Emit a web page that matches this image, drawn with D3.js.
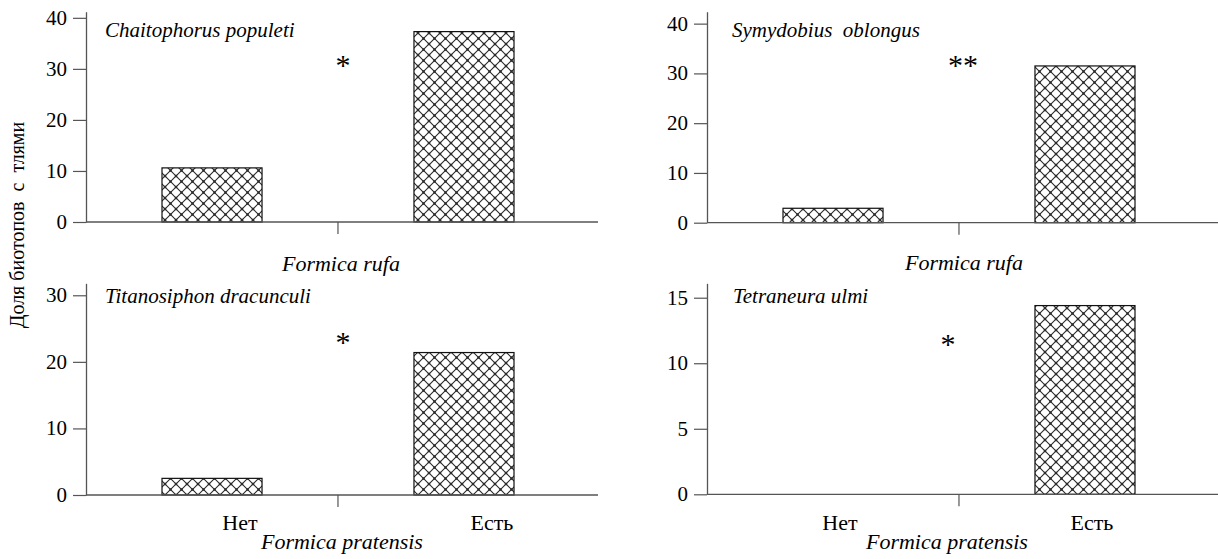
<!DOCTYPE html>
<html>
<head>
<meta charset="utf-8">
<script src="https://cdn.jsdelivr.net/npm/d3@7"></script>
<style>
  html, body { margin: 0; padding: 0; background: #fff; }
  svg { display: block; }
</style>
</head>
<body>
<svg id="chart" width="1218" height="559"></svg>
<script>
// ---- data ----
const categories = ["Нет", "Есть"];
const aphids = ["Chaitophorus populeti", "Symydobius\u00a0 oblongus", "Titanosiphon dracunculi", "Tetraneura ulmi"];
const ants = ["Formica rufa", "Formica rufa", "Formica pratensis", "Formica pratensis"];
const valuesNo = [10.6, 2.9, 2.5, 0];
const valuesYes = [37.3, 31.5, 21.4, 14.4];
const yMax = [41.2, 42.4, 31.8, 16.1];
const yTicks = [[0, 10, 20, 30, 40], [0, 10, 20, 30, 40], [0, 10, 20, 30], [0, 5, 10, 15]];
const significance = ["*", "**", "*", "*"];
const showCategoryLabels = [false, false, true, true];
const yAxisTitle = "Доля биотопов\u00a0 с\u00a0 тлями";

// ---- layout ----
const layout = [
  { left: 86,  bottom: 222,   top: 11.7,  titleDx: 19, titleY: 37,  markDx: 5,   markY: 61,  antDx: 3,   antY: 271, catDx: 0 },
  { left: 707, bottom: 222.7, top: 11.7,  titleDx: 25, titleY: 37,  markDx: 4,   markY: 61,  antDx: 5,   antY: 270, catDx: 0 },
  { left: 86,  bottom: 495,   top: 283.3, titleDx: 19, titleY: 303, markDx: 5,   markY: 338, antDx: 4,   antY: 549, catDx: 28 },
  { left: 707, bottom: 494.3, top: 283.3, titleDx: 26, titleY: 303, markDx: -11, markY: 340, antDx: -12, antY: 549, catDx: 7 }
];
const axisLen = 512, bandLen = 504;
const axisColor = "#555";

const svg = d3.select("#chart");

function addText(x, y, str, size, italic, anchor) {
  const t = svg.append("text").attr("x", x).attr("y", y)
    .style("font-family", "Liberation Serif").style("font-size", size + "px");
  if (italic) t.style("font-style", "italic");
  if (anchor) t.attr("text-anchor", anchor);
  t.text(str);
  return t;
}

// hatch pattern
const defs = svg.append("defs");
const pat = defs.append("pattern")
  .attr("id", "hatch").attr("patternUnits", "userSpaceOnUse")
  .attr("width", 11).attr("height", 11);
pat.append("rect").attr("width", 11).attr("height", 11).attr("fill", "#fff");
pat.append("path").attr("d", "M0,0L11,11M11,0L0,11M-1,10L1,12M10,-1L12,1")
  .attr("stroke", "#2a2a2a").attr("stroke-width", 1.1).attr("fill", "none");
pat.append("rect").attr("x", 4.3).attr("y", 4.3).attr("width", 2.4).attr("height", 2.4).attr("fill", "#2a2a2a");
[[0,0],[11,0],[0,11],[11,11]].forEach(([cx, cy]) => {
  pat.append("rect").attr("x", cx - 1.2).attr("y", cy - 1.2).attr("width", 2.4).attr("height", 2.4).attr("fill", "#2a2a2a");
});

aphids.forEach((name, i) => {
  const L = layout[i];
  const y = d3.scaleLinear().domain([0, yMax[i]]).range([L.bottom, L.top]);
  const x = d3.scaleBand().domain(categories)
    .range([L.left, L.left + bandLen]).paddingInner(0.603).paddingOuter(0.3016);

  // y axis (lines from d3.axisLeft, labels drawn as separate texts)
  const ya = svg.append("g").attr("transform", `translate(${L.left},0)`)
    .call(d3.axisLeft(y).tickValues(yTicks[i]).tickSize(13).tickSizeOuter(0));
  ya.selectAll(".tick text").remove();
  ya.select(".domain").attr("stroke", axisColor).attr("stroke-width", 1.3);
  ya.selectAll(".tick line").attr("stroke", axisColor).attr("stroke-width", 1.2);
  yTicks[i].forEach(v => addText(L.left - 19, y(v) + 7, String(v), 21, false, "end"));

  // bars
  const vals = [valuesNo[i], valuesYes[i]];
  svg.append("g").selectAll("rect").data(categories.map((c, k) => ({ c, v: vals[k] })).filter(d => d.v > 0))
    .enter().append("rect")
    .attr("x", d => x(d.c)).attr("width", x.bandwidth())
    .attr("y", d => y(d.v)).attr("height", d => y(0) - y(d.v))
    .attr("fill", "url(#hatch)").attr("stroke", "#111").attr("stroke-width", 1.2);

  // x axis line and middle tick
  const x0 = y(0);
  svg.append("line").attr("x1", L.left).attr("x2", L.left + axisLen)
    .attr("y1", x0).attr("y2", x0).attr("stroke", axisColor).attr("stroke-width", 1.3);
  const mid = L.left + x.step();
  svg.append("line").attr("x1", mid).attr("x2", mid).attr("y1", x0).attr("y2", x0 + 12)
    .attr("stroke", axisColor).attr("stroke-width", 1.2);

  // texts
  addText(L.left + L.titleDx, L.titleY, name, 21, true, null);
  addText(mid + L.markDx, L.markY + 14, significance[i], 30, false, "middle");
  if (showCategoryLabels[i]) {
    categories.forEach(c => addText(x(c) + x.bandwidth() / 2 + L.catDx, 530, c, 22, false, "middle"));
  }
  addText(mid + L.antDx, L.antY, ants[i], 22, true, "middle");
});

// y axis title
addText(0, 0, yAxisTitle, 20, false, "middle").attr("transform", "translate(24,225) rotate(-90)");
</script>
</body>
</html>
